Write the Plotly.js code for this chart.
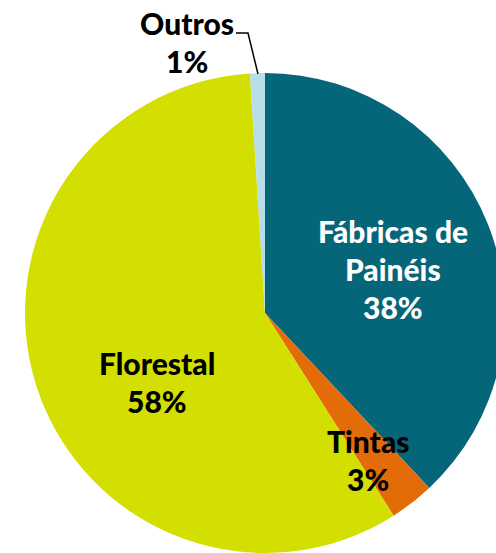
<!DOCTYPE html>
<html><head><meta charset="utf-8">
<script src="https://cdn.plot.ly/plotly-3.0.1.min.js"></script>
<style>html,body{margin:0;padding:0;overflow:hidden;background:#fff}</style>
</head><body>
<div id="chart" style="width:520px;height:553px"></div>
<script>
const labels = ["Fábricas de Painéis", "Tintas", "Florestal", "Outros"];
const values = [38, 3, 58, 1];
const colors = ["#05667A", "#E36C09", "#D3DF00", "#B7DEE8"];
const labelLines = [["Fábricas de", "Painéis"], ["Tintas"], ["Florestal"], ["Outros"]];
const textColors = ["#FFFFFF", "#000000", "#000000", "#000000"];

const W = 520, H = 553;
// label anchor positions (pixels) for first line, line spacing in px
const labelPos = [[393, 231], [368, 441], [157, 363], [187, 23]];
const lineGap = 38;

const annotations = [];
labels.forEach((lab, i) => {
  const lines = labelLines[i].concat([values[i] + "%"]);
  lines.forEach((t, j) => {
    annotations.push({
      x: labelPos[i][0] / W, y: 1 - (labelPos[i][1] + j * lineGap) / H,
      xref: "paper", yref: "paper", text: t, showarrow: false,
      xanchor: "center", yanchor: "middle",
      font: {family: "Lato, 'Open Sans', sans-serif", size: 30, color: textColors[i], weight: 900}
    });
  });
});

const trace = {
  type: "pie", labels: labels, values: values, sort: false,
  direction: "clockwise", rotation: 0,
  marker: {colors: colors, line: {width: 0}},
  textinfo: "none", hoverinfo: "label+percent", showlegend: false,
  domain: {x: [25 / W, 505 / W], y: [0, 480 / H]}
};

const px = (x, y) => (x / W) + "," + (1 - y / H);
const layout = {
  width: W, height: H, margin: {l: 0, r: 0, t: 0, b: 0},
  paper_bgcolor: "#fff", plot_bgcolor: "#fff", showlegend: false,
  annotations: annotations,
  shapes: [{type: "path", xref: "paper", yref: "paper",
    path: "M" + px(236, 33) + " L" + px(248, 33) + " L" + px(258, 74),
    line: {color: "#000", width: 1.5}}]
};
Plotly.newPlot("chart", [trace], layout, {displayModeBar: false, staticPlot: true});
</script>
</body></html>
